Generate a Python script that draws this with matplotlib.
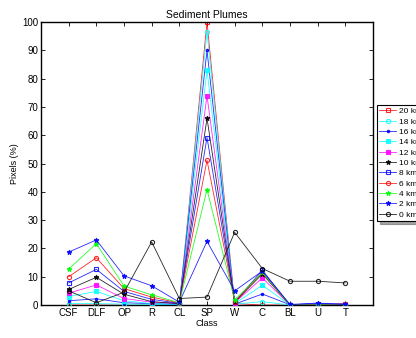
import matplotlib
matplotlib.use('Agg')
import matplotlib.pyplot as plt

plt.rcParams['font.family'] = ['Liberation Sans', 'DejaVu Sans']

classes = ['CSF', 'DLF', 'OP', 'R', 'CL', 'SP', 'W', 'C', 'BL', 'U', 'T']

# Distanz-Serien, Reihenfolge wie in der Legende
labels = ['20 km', '18 km', '16 km', '14 km', '12 km', '10 km',
          '8 km', '6 km', '4 km', '2 km', '0 km']
km20 = [0, 0, 0, 0, 0, 100, 0.5, 0, 0, 0, 0.5]
km18 = [0.5, 0.5, 0.3, 0.2, 0.2, 96.5, 0.3, 1.2, 0, 0, 0]
km16 = [1.5, 2.2, 0.8, 0.5, 0.3, 90, 0.3, 3.9, 0.1, 0.5, 0.3]
km14 = [3, 4.8, 1.5, 0.5, 0.3, 83, 0.5, 7, 0, 0, 0]
km12 = [4.2, 7.1, 2.3, 1, 0.5, 74, 0.8, 9.6, 0, 0, 0]
km10 = [5.5, 9.8, 3.8, 1.2, 0.5, 66, 1, 11, 0, 0, 0]
km8 = [7.8, 12.6, 4.8, 2, 0.6, 59.2, 1, 12.3, 0, 0, 0]
km6 = [10, 16.7, 5.8, 2.8, 0.7, 51.2, 1.2, 11.5, 0, 0, 0]
km4 = [12.7, 21.7, 6.7, 3.6, 0.8, 40.8, 1.8, 11.5, 0, 0, 0]
km2 = [18.7, 23, 10.3, 6.8, 1.0, 22.5, 5, 12, 0.2, 0.7, 0.2]
km0 = [5, 0.8, 4.5, 22.3, 2.3, 2.8, 25.7, 12.9, 8.4, 8.4, 7.8]

series = [km20, km18, km16, km14, km12, km10, km8, km6, km4, km2, km0]
styles = [('red', 's', 'none'), ('cyan', 'o', 'none'), ('blue', '.', 'blue'),
          ('cyan', 's', 'cyan'), ('magenta', 's', 'magenta'), ('black', '*', 'black'),
          ('blue', 's', 'none'), ('red', 'o', 'none'), ('lime', '*', 'lime'),
          ('blue', '*', 'blue'), ('black', 'o', 'none')]

fig = plt.figure(figsize=(4.16, 3.38), dpi=100)
ax = fig.add_axes([0.0986, 0.0976, 0.798, 0.837])

x = list(range(1, len(classes) + 1))
handles = []
for i in reversed(range(len(series))):
    color, marker, face = styles[i]
    ms = {'.': 3.5, '*': 3.5, 's': 3, 'o': 3}[marker]
    if marker == 's' and face != 'none':
        ms = 2.5
    h, = ax.plot(x, series[i], color=color, marker=marker, markerfacecolor=face,
                 markeredgecolor=color, markersize=ms, linewidth=0.6,
                 markeredgewidth=0.8, label=labels[i], zorder=2 + i)
    h.set_alpha(0.85)
    handles.append(h)
handles = handles[::-1]

ax.set_xlim(0, 12)
ax.set_ylim(0, 100)
ax.set_xticks(x)
ax.set_xticklabels(classes)
ax.set_yticks(range(0, 101, 10))
ax.tick_params(direction='in', length=3, width=0.6, labelsize=7,
               top=True, right=True, pad=2)
for sp in ax.spines.values():
    sp.set_linewidth(1.0)

ax.set_title('Sediment Plumes', fontsize=7.5, pad=3)
ax.set_xlabel('Class', fontsize=6.5, labelpad=1)
ax.set_ylabel('Pixels (%)', fontsize=6.5, labelpad=2)

# die Legende ragt wie im Original über den rechten Rand hinaus
leg = ax.legend(handles=handles, labels=labels, loc='upper left',
                bbox_to_anchor=(1.012, 0.707), fontsize=6, frameon=True,
                fancybox=False, shadow=True, handlelength=2.0,
                labelspacing=0.3, borderpad=0.3, handletextpad=0.3,
                borderaxespad=0)
leg.get_frame().set_edgecolor('black')
leg.get_frame().set_linewidth(0.8)

fig.savefig('out.png', dpi=100)
